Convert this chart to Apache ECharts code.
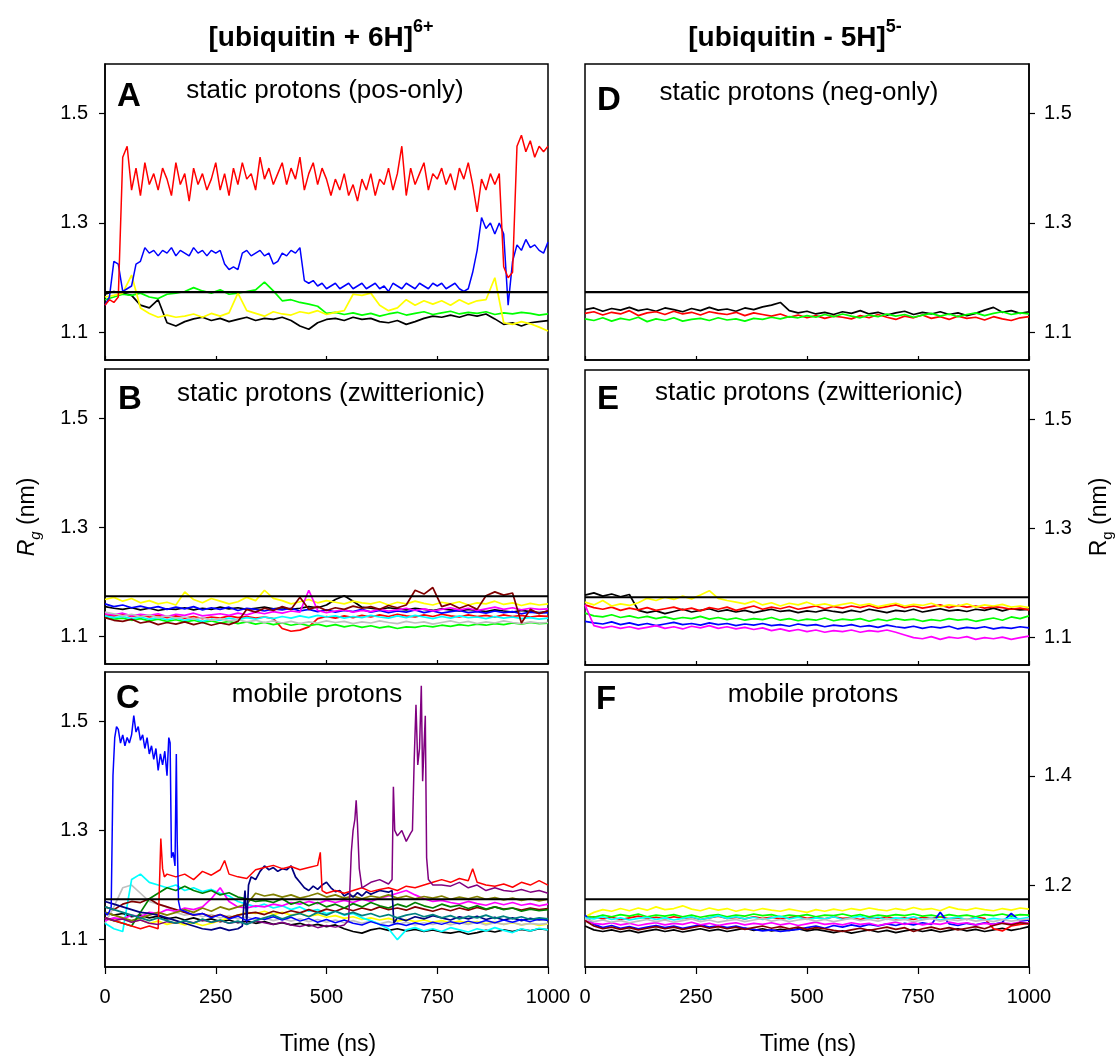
<!DOCTYPE html>
<html>
<head>
<meta charset="utf-8">
<script src="https://cdn.jsdelivr.net/npm/echarts@6.0.0/dist/echarts.min.js"></script>
<style>html,body{margin:0;padding:0;background:#fff}#main{width:1119px;height:1061px}</style>
</head>
<body>
<div id="main"></div>
<script>
// time grids (ns)
const range = (a, b, s) => { const r = []; for (let t = a; t <= b; t += s) r.push(t); return r; };
const t10 = range(0, 1000, 10);
const t20 = range(0, 1000, 20);

const crystalRg = 1.174;
const xTicks = [0, 250, 500, 750, 1000];
const yTicks = [1.1, 1.3, 1.5];
const yTicksF = [1.2, 1.4];

// ---- A: static protons (pos-only), +6
const aRed = [
  1.150,1.160,1.155,1.165,1.420,1.440,1.360,1.400,1.350,1.410,
  1.370,1.390,1.360,1.400,1.380,1.350,1.410,1.370,1.390,1.340,
  1.400,1.370,1.390,1.360,1.380,1.410,1.360,1.390,1.350,1.400,
  1.370,1.410,1.380,1.390,1.360,1.420,1.380,1.400,1.370,1.390,
  1.410,1.370,1.400,1.380,1.420,1.360,1.390,1.410,1.370,1.400,
  1.380,1.350,1.380,1.360,1.390,1.350,1.370,1.340,1.380,1.360,
  1.390,1.350,1.380,1.370,1.400,1.360,1.390,1.440,1.350,1.400,
  1.370,1.390,1.410,1.360,1.390,1.380,1.400,1.370,1.390,1.360,
  1.400,1.380,1.410,1.370,1.320,1.380,1.360,1.390,1.370,1.390,
  1.220,1.200,1.210,1.440,1.460,1.430,1.450,1.420,1.440,1.430,
  1.440];
const aBlue = [
  1.150,1.165,1.230,1.225,1.175,1.180,1.185,1.225,1.230,1.255,
  1.245,1.250,1.240,1.250,1.245,1.255,1.240,1.250,1.245,1.240,
  1.255,1.245,1.250,1.240,1.250,1.245,1.250,1.225,1.215,1.220,
  1.215,1.245,1.250,1.240,1.245,1.250,1.240,1.245,1.225,1.230,
  1.245,1.240,1.250,1.245,1.255,1.195,1.190,1.195,1.185,1.190,
  1.180,1.185,1.190,1.180,1.185,1.190,1.180,1.185,1.190,1.180,
  1.185,1.190,1.180,1.185,1.175,1.190,1.185,1.180,1.190,1.185,
  1.180,1.190,1.185,1.180,1.190,1.185,1.190,1.180,1.185,1.190,
  1.180,1.175,1.180,1.210,1.250,1.310,1.290,1.300,1.280,1.300,
  1.280,1.150,1.230,1.260,1.250,1.270,1.255,1.260,1.250,1.245,
  1.265];
const aGreen = [
  1.160,1.165,1.170,1.168,1.172,1.165,1.162,1.170,1.172,1.175,
  1.182,1.176,1.172,1.178,1.170,1.172,1.175,1.178,1.192,1.176,
  1.158,1.160,1.155,1.152,1.148,1.135,1.137,1.133,1.136,1.132,
  1.135,1.130,1.134,1.137,1.132,1.135,1.138,1.133,1.136,1.139,
  1.134,1.137,1.135,1.138,1.133,1.136,1.134,1.137,1.135,1.132,
  1.134];
const aYellow = [
  1.165,1.168,1.172,1.205,1.145,1.135,1.128,1.132,1.128,1.130,
  1.134,1.128,1.135,1.130,1.136,1.172,1.140,1.135,1.130,1.138,
  1.134,1.132,1.138,1.135,1.140,1.133,1.137,1.140,1.170,1.168,
  1.172,1.150,1.140,1.145,1.160,1.150,1.158,1.152,1.158,1.150,
  1.160,1.152,1.158,1.160,1.200,1.118,1.115,1.120,1.116,1.110,
  1.103];
const aBlack = [
  1.170,1.175,1.172,1.168,1.150,1.145,1.160,1.118,1.112,1.120,
  1.125,1.128,1.122,1.126,1.120,1.124,1.128,1.122,1.126,1.124,
  1.128,1.122,1.112,1.106,1.118,1.124,1.126,1.122,1.128,1.124,
  1.126,1.120,1.118,1.122,1.115,1.120,1.126,1.130,1.128,1.132,
  1.128,1.133,1.130,1.134,1.125,1.115,1.118,1.112,1.118,1.120,
  1.122];

// ---- B: static protons (zwitterionic), +6
const bBlack = [
  1.155,1.152,1.150,1.153,1.149,1.152,1.148,1.151,1.150,1.153,
  1.149,1.152,1.150,1.154,1.151,1.153,1.150,1.152,1.154,1.151,
  1.153,1.150,1.152,1.155,1.153,1.158,1.168,1.175,1.165,1.154,
  1.152,1.150,1.153,1.151,1.149,1.152,1.150,1.148,1.151,1.149,
  1.147,1.150,1.148,1.146,1.149,1.147,1.145,1.148,1.146,1.144,
  1.146];
const bRed = [
  1.140,1.138,1.141,1.137,1.140,1.136,1.139,1.135,1.138,1.134,
  1.137,1.133,1.136,1.134,1.138,1.135,1.137,1.134,1.136,1.133,
  1.115,1.110,1.112,1.118,1.133,1.137,1.134,1.138,1.135,1.139,
  1.136,1.140,1.137,1.141,1.138,1.136,1.140,1.137,1.141,1.138,
  1.136,1.140,1.137,1.139,1.136,1.140,1.137,1.139,1.136,1.138,
  1.137];
const bGreen = [
  1.135,1.132,1.134,1.130,1.133,1.129,1.132,1.128,1.131,1.127,
  1.130,1.126,1.129,1.125,1.128,1.124,1.127,1.123,1.126,1.122,
  1.125,1.121,1.124,1.120,1.123,1.119,1.122,1.118,1.121,1.117,
  1.120,1.116,1.119,1.115,1.118,1.117,1.120,1.118,1.121,1.119,
  1.122,1.120,1.123,1.121,1.124,1.122,1.125,1.123,1.126,1.124,
  1.125];
const bYellow = [
  1.168,1.172,1.165,1.170,1.162,1.166,1.160,1.163,1.158,1.182,
  1.168,1.162,1.170,1.165,1.160,1.164,1.172,1.166,1.185,1.170,
  1.166,1.160,1.164,1.168,1.162,1.166,1.163,1.160,1.165,1.162,
  1.160,1.164,1.158,1.163,1.160,1.165,1.161,1.158,1.163,1.160,
  1.164,1.158,1.162,1.160,1.165,1.159,1.162,1.157,1.161,1.158,
  1.160];
const bBlue = [
  1.160,1.155,1.158,1.153,1.156,1.152,1.155,1.150,1.154,1.151,
  1.155,1.149,1.153,1.150,1.154,1.148,1.152,1.150,1.147,1.151,
  1.149,1.152,1.147,1.150,1.146,1.149,1.145,1.148,1.146,1.150,
  1.145,1.148,1.144,1.147,1.145,1.149,1.144,1.147,1.143,1.146,
  1.148,1.144,1.146,1.143,1.147,1.144,1.146,1.142,1.145,1.143,
  1.144];
const bMagenta = [
  1.142,1.140,1.143,1.138,1.141,1.139,1.142,1.137,1.141,1.139,
  1.143,1.138,1.140,1.142,1.139,1.143,1.140,1.145,1.142,1.146,
  1.143,1.147,1.145,1.185,1.148,1.144,1.147,1.149,1.145,1.148,
  1.146,1.150,1.147,1.149,1.152,1.148,1.151,1.147,1.150,1.153,
  1.149,1.152,1.148,1.151,1.154,1.150,1.153,1.149,1.152,1.150,
  1.151];
const bCyan = [
  1.138,1.135,1.137,1.133,1.136,1.132,1.135,1.131,1.134,1.130,
  1.133,1.128,1.132,1.130,1.134,1.131,1.135,1.132,1.136,1.133,
  1.137,1.134,1.138,1.135,1.139,1.136,1.138,1.134,1.137,1.135,
  1.139,1.136,1.134,1.138,1.135,1.139,1.136,1.133,1.137,1.134,
  1.138,1.135,1.136,1.133,1.137,1.134,1.136,1.133,1.135,1.132,
  1.134];
const bGray = [
  1.145,1.142,1.138,1.141,1.137,1.140,1.135,1.138,1.134,1.136,
  1.132,1.135,1.130,1.133,1.129,1.131,1.127,1.130,1.126,1.129,
  1.125,1.128,1.124,1.127,1.125,1.129,1.126,1.128,1.124,1.127,
  1.125,1.129,1.126,1.124,1.128,1.125,1.127,1.123,1.126,1.129,
  1.125,1.128,1.124,1.127,1.125,1.129,1.126,1.124,1.127,1.125,
  1.126];
const bMaroon = [
  1.135,1.130,1.128,1.132,1.125,1.128,1.122,1.126,1.123,1.127,
  1.122,1.126,1.121,1.125,1.122,1.128,1.150,1.145,1.152,1.148,
  1.155,1.150,1.172,1.150,1.155,1.148,1.153,1.150,1.156,1.152,
  1.155,1.150,1.157,1.153,1.158,1.185,1.178,1.190,1.155,1.160,
  1.152,1.158,1.150,1.175,1.182,1.176,1.180,1.125,1.150,1.142,
  1.148];

// ---- C: mobile protons, +6
const cBlack = [
  1.150,1.145,1.148,1.142,1.145,1.140,1.143,1.138,1.141,1.136,
  1.140,1.135,1.138,1.133,1.136,1.131,1.134,1.130,1.133,1.128,
  1.131,1.127,1.130,1.125,1.128,1.124,1.127,1.120,1.115,1.112,
  1.118,1.121,1.117,1.120,1.116,1.119,1.115,1.118,1.114,1.112,
  1.115,1.110,1.113,1.117,1.114,1.118,1.115,1.119,1.116,1.120,
  1.118];
const cYellow = [
  1.140,1.135,1.138,1.132,1.136,1.130,1.134,1.128,1.132,1.127,
  1.131,1.126,1.130,1.135,1.140,1.145,1.150,1.148,1.152,1.146,
  1.150,1.145,1.148,1.143,1.146,1.141,1.144,1.139,1.142,1.137,
  1.140,1.136,1.139,1.134,1.137,1.133,1.136,1.132,1.135,1.131,
  1.134,1.130,1.133,1.129,1.132,1.128,1.131,1.127,1.130,1.126,
  1.129];
const cMagenta = [
  1.135,1.140,1.138,1.145,1.142,1.150,1.148,1.155,1.152,1.158,
  1.155,1.160,1.175,1.195,1.170,1.160,1.158,1.162,1.160,1.165,
  1.162,1.168,1.165,1.170,1.166,1.172,1.168,1.172,1.168,1.174,
  1.170,1.176,1.180,1.185,1.190,1.182,1.175,1.170,1.172,1.168,
  1.165,1.170,1.166,1.163,1.168,1.164,1.168,1.163,1.166,1.162,
  1.165];
const cCyan = [
  1.130,1.120,1.115,1.210,1.220,1.205,1.200,1.195,1.200,1.190,
  1.195,1.188,1.192,1.185,1.180,1.170,1.165,1.160,1.165,1.158,
  1.162,1.155,1.160,1.152,1.155,1.148,1.152,1.145,1.148,1.140,
  1.135,1.128,1.120,1.100,1.118,1.122,1.116,1.120,1.115,1.122,
  1.118,1.114,1.120,1.116,1.122,1.117,1.113,1.120,1.116,1.121,
  1.118];
const cGray = [
  1.130,1.160,1.195,1.200,1.185,1.170,1.165,1.160,1.150,1.145,
  1.148,1.142,1.146,1.140,1.144,1.138,1.142,1.136,1.140,1.135,
  1.139,1.134,1.138,1.133,1.137,1.132,1.136,1.131,1.135,1.130,
  1.134,1.129,1.133,1.128,1.132,1.127,1.131,1.128,1.132,1.127,
  1.131,1.128,1.132,1.127,1.131,1.128,1.132,1.127,1.130,1.128,
  1.130];
const cMaroon = [
  1.160,1.155,1.165,1.170,1.168,1.175,1.165,1.160,1.155,1.150,
  1.145,1.148,1.142,1.146,1.140,1.145,1.148,1.150,1.146,1.152,
  1.148,1.153,1.149,1.155,1.150,1.156,1.152,1.158,1.153,1.158,
  1.154,1.160,1.155,1.158,1.154,1.160,1.156,1.152,1.157,1.153,
  1.158,1.154,1.159,1.155,1.160,1.156,1.158,1.154,1.158,1.155,
  1.157];
const cDkGreen = [
  1.140,1.135,1.130,1.125,1.150,1.175,1.185,1.195,1.190,1.198,
  1.190,1.185,1.190,1.182,1.186,1.178,1.175,1.170,1.172,1.168,
  1.175,1.165,1.170,1.162,1.168,1.160,1.165,1.158,1.166,1.160,
  1.168,1.162,1.158,1.165,1.160,1.168,1.162,1.158,1.165,1.160,
  1.163,1.157,1.162,1.156,1.160,1.155,1.158,1.152,1.156,1.153,
  1.155];
const cOlive = [
  1.150,1.145,1.140,1.135,1.140,1.145,1.150,1.145,1.150,1.155,
  1.150,1.158,1.152,1.160,1.155,1.160,1.165,1.185,1.180,1.183,
  1.178,1.182,1.176,1.180,1.185,1.178,1.182,1.176,1.180,1.175,
  1.180,1.177,1.182,1.176,1.180,1.175,1.179,1.176,1.180,1.174,
  1.178,1.175,1.179,1.174,1.177,1.173,1.176,1.172,1.175,1.171,
  1.174];
const cTeal = [
  1.160,1.155,1.150,1.145,1.140,1.135,1.140,1.135,1.130,1.135,
  1.130,1.138,1.132,1.136,1.130,1.134,1.128,1.135,1.140,1.145,
  1.138,1.144,1.148,1.142,1.150,1.145,1.152,1.146,1.150,1.144,
  1.148,1.142,1.146,1.140,1.145,1.148,1.142,1.146,1.140,1.144,
  1.138,1.143,1.140,1.145,1.139,1.143,1.138,1.142,1.137,1.140,
  1.138];

const cRedTime = range(0, 120, 20).concat([126,130,134],
  [140,160,180,200,220,240,260,270,280,300,320,340,360,380,400,420,440,460,480],
  [486,490], range(500, 820, 20), [830], range(840, 1000, 20));
const cRed = [
  1.140,1.135,1.130,1.125,1.120,1.125,1.120,
  1.285,1.230,1.215,
  1.220,1.215,1.220,1.210,1.225,1.218,1.228,1.245,1.220,1.215,
  1.212,1.228,1.232,1.236,1.230,1.234,1.228,1.232,1.236,
  1.260,1.190,
  1.185,1.190,1.185,1.190,1.195,1.188,1.192,1.195,1.190,1.198,
  1.195,1.200,1.205,1.210,1.205,1.212,1.208,
  1.230,
  1.205,1.200,1.198,1.202,1.196,1.205,1.200,1.208,1.200];

const cNavyTime = range(0, 300, 20).concat([310,316,320,324,330],
  range(340, 600, 10), [620,640,648,652], range(660, 1000, 20));
const cNavy = [
  1.170,1.165,1.160,1.155,1.150,1.148,1.145,1.140,1.135,1.130,
  1.125,1.120,1.118,1.122,1.117,1.120,
  1.125,1.190,1.130,1.200,1.215,
  1.210,1.225,1.235,1.228,1.232,1.225,1.230,1.228,1.235,1.215,
  1.205,1.195,1.190,1.198,1.192,1.200,1.205,1.195,1.188,1.190,
  1.180,1.185,1.178,1.186,1.180,1.188,1.183,
  1.190,1.187,1.190,1.130,
  1.140,1.135,1.142,1.138,1.144,1.140,1.136,1.142,1.138,1.143,
  1.137,1.141,1.136,1.140,1.135,1.139,1.136,1.138];

const cBlueTime = [0,5,10,14,18,22,26,30,35,40,45,50,55,60,65,70,75,80,85,90,
  95,100,105,110,115,120,125,130,135,140,144,147,150,154,158,161,163,166,170]
  .concat(range(180, 1000, 20));
const cBlue = [
  1.150,1.145,1.152,1.160,1.400,1.470,1.490,1.485,1.460,1.475,
  1.455,1.470,1.460,1.475,1.510,1.480,1.490,1.465,1.475,1.450,
  1.470,1.440,1.455,1.430,1.450,1.410,1.440,1.420,1.445,1.400,
  1.470,1.460,1.250,1.260,1.235,1.440,1.280,1.170,1.155,
  1.152,1.145,1.148,1.140,1.146,1.138,1.143,1.135,1.140,1.137,
  1.142,1.136,1.141,1.134,1.139,1.132,1.137,1.131,1.136,1.130,
  1.127,1.133,1.128,1.125,1.130,1.126,1.131,1.127,1.132,1.128,
  1.133,1.129,1.134,1.130,1.135,1.131,1.136,1.132,1.137,1.133,
  1.138,1.135];

const cPurpleTime = range(0, 540, 20).concat([550,556,560,564,567,570,574,580],
  [600,620,640,648,651,654,660,670,680,690,694,698,702,706,710,714,717,720,723,726,730,740],
  range(760, 1000, 20));
const cPurple = [
  1.140,1.135,1.138,1.132,1.136,1.130,1.128,1.133,1.130,1.134,
  1.131,1.136,1.132,1.135,1.130,1.133,1.129,1.134,1.131,1.128,
  1.132,1.127,1.124,1.128,1.122,1.126,1.123,1.127,
  1.135,1.260,1.300,1.320,1.355,1.310,1.230,1.195,
  1.205,1.210,1.202,1.210,1.380,1.300,1.290,1.300,1.280,1.295,
  1.300,1.430,1.530,1.420,1.450,1.565,1.390,1.450,1.510,1.250,
  1.210,1.200,
  1.200,1.198,1.205,1.195,1.200,1.190,1.195,1.190,1.188,1.192,
  1.187,1.190,1.185];

// ---- D: static protons (neg-only), -5
const dBlack = [
  1.142,1.145,1.139,1.144,1.141,1.146,1.140,1.143,1.139,1.145,
  1.142,1.138,1.144,1.140,1.146,1.141,1.143,1.139,1.145,1.142,
  1.147,1.150,1.155,1.140,1.136,1.139,1.134,1.137,1.133,1.138,
  1.135,1.140,1.134,1.137,1.132,1.136,1.139,1.133,1.137,1.134,
  1.138,1.133,1.136,1.131,1.135,1.141,1.146,1.137,1.140,1.135,
  1.138];
const dRed = [
  1.135,1.138,1.132,1.137,1.134,1.140,1.131,1.136,1.138,1.133,
  1.139,1.134,1.137,1.132,1.138,1.135,1.133,1.137,1.131,1.136,
  1.133,1.130,1.134,1.128,1.132,1.127,1.131,1.126,1.130,1.128,
  1.125,1.131,1.127,1.133,1.128,1.124,1.130,1.127,1.132,1.126,
  1.129,1.124,1.130,1.126,1.128,1.123,1.129,1.125,1.122,1.127,
  1.129];
const dGreen = [
  1.125,1.122,1.127,1.121,1.126,1.123,1.128,1.120,1.125,1.122,
  1.127,1.121,1.124,1.126,1.122,1.127,1.123,1.125,1.121,1.126,
  1.124,1.128,1.125,1.129,1.127,1.131,1.128,1.133,1.129,1.134,
  1.130,1.127,1.132,1.129,1.134,1.130,1.133,1.128,1.132,1.135,
  1.130,1.134,1.129,1.133,1.136,1.131,1.135,1.138,1.133,1.136,
  1.134];

// ---- E: static protons (zwitterionic), -5
const eBlack = [
  1.178,1.182,1.176,1.180,1.175,1.179,1.150,1.146,1.149,1.144,
  1.148,1.152,1.147,1.150,1.153,1.148,1.151,1.147,1.150,1.146,
  1.149,1.152,1.148,1.150,1.146,1.149,1.147,1.151,1.148,1.146,
  1.150,1.147,1.152,1.149,1.146,1.150,1.148,1.152,1.147,1.150,
  1.153,1.149,1.151,1.148,1.152,1.150,1.154,1.149,1.153,1.151,
  1.152];
const eRed = [
  1.160,1.155,1.152,1.156,1.150,1.154,1.151,1.155,1.150,1.153,
  1.156,1.151,1.154,1.149,1.155,1.152,1.156,1.150,1.154,1.158,
  1.152,1.156,1.153,1.157,1.152,1.155,1.158,1.153,1.157,1.154,
  1.158,1.155,1.159,1.154,1.157,1.160,1.155,1.158,1.154,1.157,
  1.160,1.155,1.159,1.156,1.158,1.154,1.157,1.155,1.152,1.154,
  1.151];
const eGreen = [
  1.145,1.140,1.138,1.142,1.137,1.140,1.136,1.139,1.135,1.138,
  1.134,1.137,1.135,1.139,1.134,1.137,1.133,1.136,1.132,1.135,
  1.133,1.137,1.132,1.135,1.131,1.134,1.132,1.136,1.131,1.134,
  1.132,1.135,1.130,1.134,1.131,1.135,1.132,1.134,1.130,1.133,
  1.131,1.135,1.132,1.134,1.130,1.133,1.136,1.132,1.138,1.135,
  1.140];
const eYellow = [
  1.165,1.160,1.168,1.158,1.162,1.159,1.164,1.172,1.168,1.174,
  1.170,1.176,1.171,1.178,1.186,1.172,1.168,1.165,1.162,1.167,
  1.160,1.164,1.158,1.163,1.160,1.165,1.159,1.162,1.158,1.161,
  1.164,1.159,1.162,1.157,1.160,1.163,1.158,1.161,1.159,1.163,
  1.157,1.160,1.158,1.162,1.156,1.160,1.158,1.161,1.156,1.158,
  1.155];
const eBlue = [
  1.130,1.127,1.125,1.129,1.124,1.127,1.123,1.126,1.122,1.125,
  1.128,1.124,1.126,1.123,1.127,1.124,1.126,1.122,1.125,1.123,
  1.126,1.122,1.124,1.121,1.125,1.122,1.124,1.120,1.123,1.121,
  1.124,1.120,1.122,1.119,1.123,1.120,1.118,1.121,1.117,1.120,
  1.118,1.121,1.116,1.119,1.117,1.120,1.116,1.119,1.117,1.120,
  1.118];
const eMagenta = [
  1.160,1.122,1.118,1.121,1.117,1.120,1.116,1.119,1.122,1.117,
  1.120,1.116,1.121,1.118,1.122,1.117,1.120,1.116,1.119,1.115,
  1.118,1.113,1.116,1.112,1.115,1.111,1.114,1.110,1.113,1.111,
  1.114,1.110,1.113,1.111,1.114,1.110,1.105,1.100,1.098,1.102,
  1.097,1.101,1.099,1.102,1.097,1.100,1.098,1.101,1.097,1.100,
  1.103];

// ---- F: mobile protons, -5
const fBlack = [
  1.125,1.118,1.115,1.118,1.114,1.117,1.113,1.116,1.119,1.115,
  1.118,1.114,1.117,1.120,1.116,1.119,1.115,1.118,1.121,1.117,
  1.120,1.116,1.119,1.117,1.120,1.116,1.119,1.116,1.113,1.116,
  1.112,1.115,1.118,1.114,1.117,1.113,1.116,1.119,1.115,1.118,
  1.114,1.117,1.120,1.116,1.119,1.115,1.118,1.121,1.117,1.120,
  1.124];
const fRed = [
  1.140,1.142,1.138,1.141,1.137,1.140,1.143,1.139,1.141,1.138,
  1.142,1.139,1.141,1.137,1.140,1.143,1.139,1.141,1.138,1.142,
  1.139,1.141,1.138,1.140,1.143,1.139,1.141,1.138,1.142,1.139,
  1.140,1.137,1.141,1.139,1.142,1.138,1.140,1.137,1.141,1.139,
  1.142,1.138,1.140,1.137,1.141,1.139,1.120,1.116,1.125,1.128,
  1.130];
const fGreen = [
  1.144,1.141,1.145,1.142,1.146,1.143,1.147,1.142,1.145,1.143,
  1.146,1.142,1.145,1.141,1.144,1.146,1.142,1.145,1.143,1.147,
  1.144,1.146,1.142,1.145,1.143,1.146,1.142,1.145,1.144,1.147,
  1.143,1.146,1.142,1.145,1.143,1.146,1.144,1.147,1.143,1.145,
  1.142,1.146,1.143,1.145,1.142,1.146,1.144,1.147,1.143,1.146,
  1.145];
const fYellow = [
  1.142,1.150,1.155,1.152,1.157,1.153,1.158,1.154,1.160,1.155,
  1.157,1.162,1.156,1.153,1.158,1.154,1.157,1.152,1.156,1.153,
  1.157,1.154,1.152,1.156,1.153,1.150,1.155,1.152,1.156,1.153,
  1.157,1.154,1.158,1.155,1.153,1.157,1.154,1.159,1.155,1.157,
  1.153,1.160,1.156,1.154,1.158,1.155,1.153,1.157,1.154,1.158,
  1.156];
const fBlue = [
  1.145,1.128,1.122,1.126,1.121,1.124,1.120,1.123,1.126,1.122,
  1.125,1.121,1.124,1.127,1.123,1.126,1.122,1.125,1.121,1.119,
  1.116,1.118,1.115,1.117,1.119,1.122,1.125,1.121,1.126,1.123,
  1.127,1.124,1.128,1.125,1.129,1.126,1.130,1.127,1.131,1.128,
  1.150,1.129,1.126,1.130,1.127,1.131,1.128,1.132,1.148,1.134,
  1.136];
const fMagenta = [
  1.135,1.130,1.128,1.131,1.127,1.130,1.126,1.129,1.131,1.127,
  1.130,1.128,1.132,1.127,1.130,1.126,1.129,1.131,1.127,1.130,
  1.128,1.131,1.127,1.130,1.126,1.129,1.132,1.128,1.130,1.127,
  1.131,1.128,1.130,1.126,1.129,1.132,1.128,1.131,1.127,1.130,
  1.128,1.132,1.129,1.131,1.127,1.130,1.128,1.131,1.129,1.132,
  1.130];
const fCyan = [
  1.140,1.138,1.142,1.137,1.140,1.136,1.139,1.141,1.137,1.140,
  1.136,1.139,1.142,1.137,1.140,1.144,1.139,1.142,1.138,1.141,
  1.137,1.140,1.143,1.138,1.141,1.137,1.140,1.138,1.142,1.137,
  1.140,1.143,1.138,1.141,1.137,1.140,1.138,1.142,1.137,1.140,
  1.136,1.139,1.141,1.137,1.140,1.136,1.139,1.137,1.140,1.138,
  1.141];
const fGray = [
  1.138,1.133,1.136,1.132,1.135,1.131,1.134,1.137,1.133,1.136,
  1.132,1.135,1.138,1.133,1.136,1.132,1.135,1.137,1.133,1.136,
  1.139,1.134,1.137,1.133,1.136,1.138,1.134,1.137,1.133,1.136,
  1.139,1.135,1.137,1.134,1.138,1.135,1.137,1.133,1.136,1.139,
  1.134,1.137,1.135,1.138,1.134,1.136,1.133,1.137,1.134,1.136,
  1.138];
const fMaroon = [
  1.135,1.125,1.120,1.123,1.119,1.122,1.118,1.121,1.124,1.120,
  1.123,1.119,1.122,1.125,1.121,1.124,1.120,1.123,1.119,1.122,
  1.125,1.121,1.124,1.120,1.123,1.119,1.122,1.120,1.117,1.115,
  1.118,1.121,1.117,1.120,1.123,1.119,1.122,1.115,1.120,1.123,
  1.119,1.122,1.118,1.121,1.124,1.120,1.126,1.130,1.127,1.131,
  1.129];

const FONT = '"Liberation Sans", Arial, Helvetica, sans-serif';
const C = {
  black: '#000000', red: '#ff0000', green: '#00ff00', yellow: '#ffff00',
  blue: '#0000ff', magenta: '#ff00ff', cyan: '#00ffff', gray: '#c0c0c0',
  maroon: '#800000', dkgreen: '#008000', navy: '#000080', olive: '#808000',
  purple: '#800080', teal: '#008080'
};

const chart = echarts.init(document.getElementById('main'), null, { renderer: 'canvas' });

const gridBoxes = [
  { left: 105, top: 64, width: 443, height: 296 },  // A
  { left: 105, top: 369, width: 443, height: 295 }, // B
  { left: 105, top: 672, width: 443, height: 295 }, // C
  { left: 585, top: 64, width: 444, height: 296 },  // D
  { left: 585, top: 370, width: 444, height: 295 }, // E
  { left: 585, top: 672, width: 444, height: 295 }  // F
];
const isBottom = [false, false, true, false, false, true];

function line(gi, ts, vs, color, w) {
  return {
    type: 'line', xAxisIndex: gi, yAxisIndex: gi,
    data: ts.map((t, i) => [t, vs[i]]),
    symbol: 'none', showSymbol: false, silent: true,
    lineStyle: { color: color, width: w || 1.7 },
    itemStyle: { color: color }
  };
}
function refLine(gi) {
  return {
    type: 'line', xAxisIndex: gi, yAxisIndex: gi, z: 5,
    data: [[0, crystalRg], [1000, crystalRg]],
    symbol: 'none', silent: true,
    lineStyle: { color: '#000', width: 2.2 }
  };
}

const series = [
  // A
  line(0, t20, aBlack, C.black), line(0, t20, aGreen, C.green), line(0, t20, aYellow, C.yellow),
  line(0, t10, aBlue, C.blue, 1.5), line(0, t10, aRed, C.red, 1.5), refLine(0),
  // B
  line(1, t20, bBlack, C.black), line(1, t20, bRed, C.red), line(1, t20, bGreen, C.green),
  line(1, t20, bCyan, C.cyan), line(1, t20, bBlue, C.blue), line(1, t20, bYellow, C.yellow),
  line(1, t20, bMagenta, C.magenta), line(1, t20, bGray, C.gray), line(1, t20, bMaroon, C.maroon),
  refLine(1),
  // C
  line(2, t20, cBlack, C.black), line(2, t20, cYellow, C.yellow), line(2, t20, cGray, C.gray),
  line(2, t20, cCyan, C.cyan), line(2, t20, cMaroon, C.maroon), line(2, t20, cMagenta, C.magenta),
  line(2, t20, cOlive, C.olive), line(2, t20, cDkGreen, C.dkgreen),
  line(2, cNavyTime, cNavy, C.navy), line(2, cRedTime, cRed, C.red, 1.5),
  line(2, cBlueTime, cBlue, C.blue, 1.5), line(2, cPurpleTime, cPurple, C.purple, 1.5),
  line(2, t20, cTeal, C.teal), refLine(2),
  // D
  line(3, t20, dBlack, C.black), line(3, t20, dRed, C.red), line(3, t20, dGreen, C.green), refLine(3),
  // E
  line(4, t20, eBlack, C.black), line(4, t20, eRed, C.red), line(4, t20, eGreen, C.green),
  line(4, t20, eYellow, C.yellow), line(4, t20, eBlue, C.blue), line(4, t20, eMagenta, C.magenta),
  refLine(4),
  // F
  line(5, t20, fBlack, C.black), line(5, t20, fRed, C.red), line(5, t20, fGreen, C.green),
  line(5, t20, fYellow, C.yellow), line(5, t20, fBlue, C.blue), line(5, t20, fMagenta, C.magenta),
  line(5, t20, fCyan, C.cyan), line(5, t20, fGray, C.gray), line(5, t20, fMaroon, C.maroon),
  refLine(5)
];

const xAxes = gridBoxes.map((g, i) => ({
  gridIndex: i, type: 'value', min: 0, max: 1000, interval: 250,
  axisLine: { onZero: false, lineStyle: { color: '#000', width: 1.5 } },
  axisTick: { inside: !isBottom[i], length: isBottom[i] ? 7 : 4, lineStyle: { color: '#000', width: 1.2 } },
  axisLabel: {
    show: isBottom[i], color: '#000', fontSize: 20, fontFamily: FONT, margin: 20,
    formatter: v => String(v)
  },
  splitLine: { show: false }
}));
const yAxes = gridBoxes.map((g, i) => {
  const right = i >= 3;
  const ticks = i === 5 ? yTicksF : yTicks;
  return {
    gridIndex: i, type: 'value', min: 1.05, max: 1.59,
    position: right ? 'right' : 'left',
    axisLine: { show: true, onZero: false, lineStyle: { color: '#000', width: 1.5 } },
    axisTick: { show: true, inside: false, length: 6, customValues: ticks, lineStyle: { color: '#000', width: 1.2 } },
    axisLabel: {
      customValues: ticks, color: '#000', fontSize: 20, fontFamily: FONT,
      margin: right ? 15 : 17, formatter: v => Number(v).toFixed(1)
    },
    splitLine: { show: false }
  };
});

function txt(x, y, text, size, opts) {
  return Object.assign({
    type: 'text', x: x, y: y, silent: true,
    style: Object.assign({
      text: text, fontSize: size, fontFamily: FONT, fill: '#000',
      align: 'center', verticalAlign: 'middle'
    }, (opts && opts.style) || {})
  }, (opts && opts.el) || {});
}

const titleRich = {
  m: { fontSize: 28, fontWeight: 'bold', fontFamily: FONT, lineHeight: 40 },
  s: { fontSize: 18, fontWeight: 'bold', fontFamily: FONT, lineHeight: 20, verticalAlign: 'top' }
};
function rgRich(italic) {
  const st = italic ? 'italic' : 'normal';
  return {
    r: { fontSize: 23, fontStyle: st, fontFamily: FONT, lineHeight: 30 },
    g: { fontSize: 15, fontStyle: st, fontFamily: FONT, lineHeight: 18, verticalAlign: 'bottom' },
    n: { fontSize: 23, fontFamily: FONT, lineHeight: 30 }
  };
}
const bold = { style: { fontWeight: 'bold', align: 'left' } };

const graphics = [
  txt(321, 38, '{m|[ubiquitin + 6H]}{s|6+}', 28, { style: { rich: titleRich } }),
  txt(795, 38, '{m|[ubiquitin - 5H]}{s|5-}', 28, { style: { rich: titleRich } }),
  txt(117, 97, 'A', 33, bold), txt(118, 400, 'B', 33, bold), txt(116, 699, 'C', 33, bold),
  txt(597, 101, 'D', 33, bold), txt(597, 400, 'E', 33, bold), txt(596, 700, 'F', 33, bold),
  txt(325, 91, 'static protons (pos-only)', 26),
  txt(331, 394, 'static protons (zwitterionic)', 26),
  txt(317, 695, 'mobile protons', 26),
  txt(799, 93, 'static protons (neg-only)', 26),
  txt(809, 393, 'static protons (zwitterionic)', 26),
  txt(813, 695, 'mobile protons', 26),
  txt(328, 1045, 'Time (ns)', 23),
  txt(808, 1045, 'Time (ns)', 23),
  txt(28, 517, '{r|R}{g|g}{n| (nm)}', 23, { style: { rich: rgRich(true) }, el: { rotation: Math.PI / 2 } }),
  txt(1100, 517, '{r|R}{g|g}{n| (nm)}', 23, { style: { rich: rgRich(false) }, el: { rotation: Math.PI / 2 } })
];

chart.setOption({
  animation: false,
  backgroundColor: '#fff',
  grid: gridBoxes.map(g => Object.assign({ show: true, borderColor: '#000', borderWidth: 1.5, containLabel: false }, g)),
  xAxis: xAxes,
  yAxis: yAxes,
  series: series,
  graphic: graphics
});
</script>
</body>
</html>
